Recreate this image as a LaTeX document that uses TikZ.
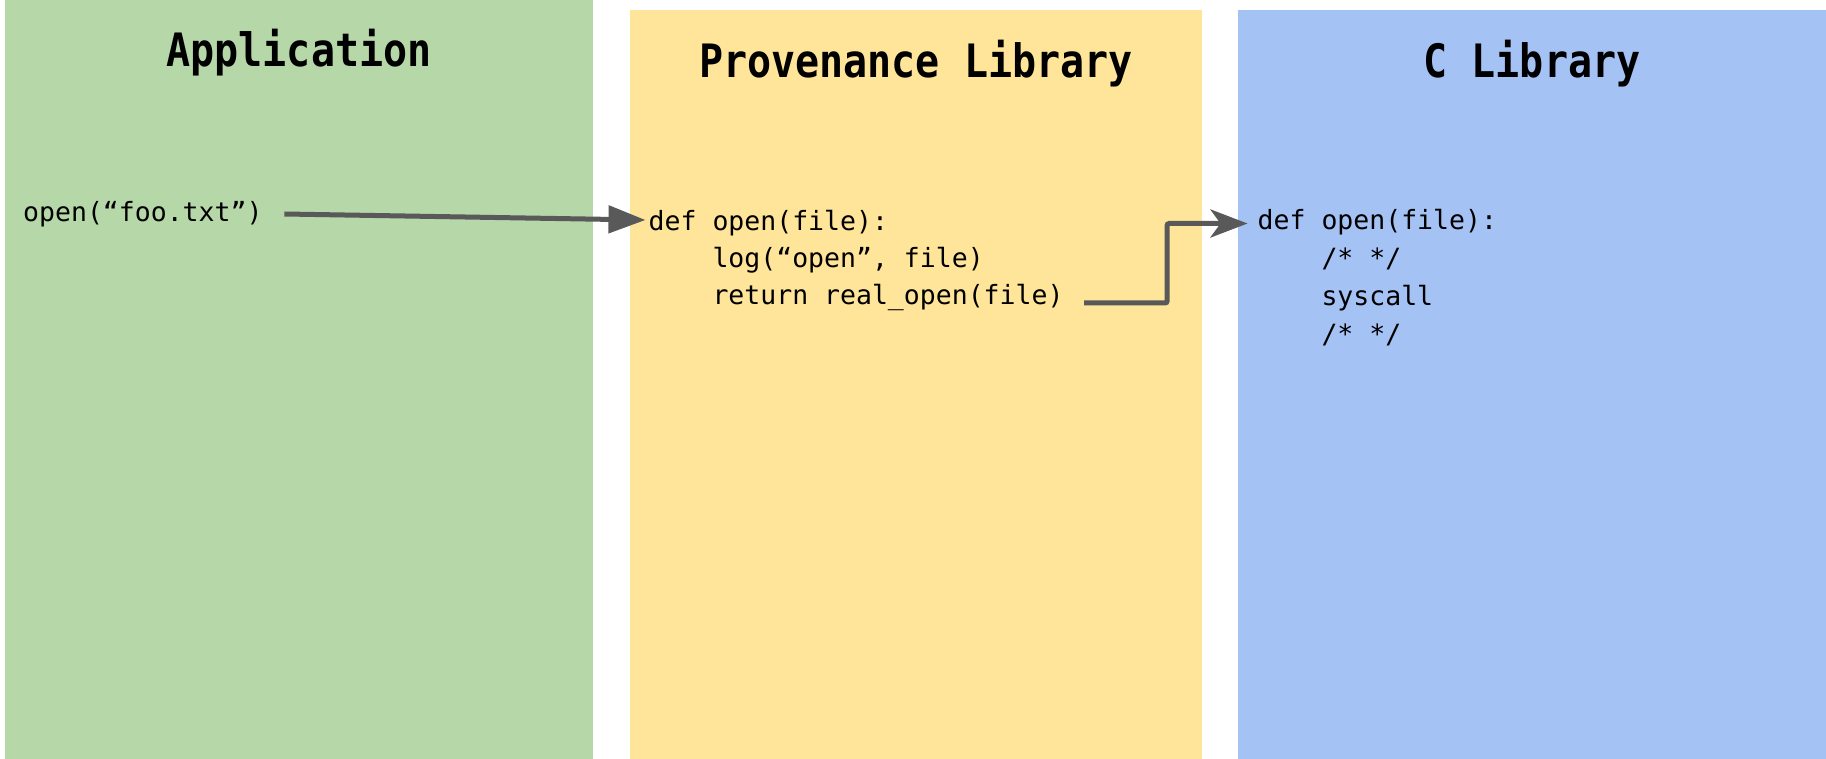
\documentclass[tikz,border=0pt]{standalone}
\usepackage{fontspec}
\setmonofont{DejaVu Sans Mono}
\usetikzlibrary{arrows.meta}
\definecolor{appgreen}{HTML}{B6D7A8}
\definecolor{provyellow}{HTML}{FFE599}
\definecolor{clibblue}{HTML}{A4C2F4}
\definecolor{arrowgray}{HTML}{595959}
\begin{document}
\begin{tikzpicture}[x=1pt,y=-1pt,
  code/.style={anchor=base west, inner sep=0pt, font=\ttfamily\fontsize{26.5}{38}\selectfont},
  heading/.style={anchor=base, inner sep=0pt, font=\ttfamily\bfseries\fontsize{40}{48}\selectfont},
  arr/.style={draw=arrowgray, line width=5pt}]
\useasboundingbox (0,0) rectangle (1826,759);
\fill[appgreen] (5,0) rectangle (593,759);
\fill[provyellow] (630,10) rectangle (1202,759);
\fill[clibblue] (1238,10) rectangle (1826,759);
\node[heading] (happ) at (299,67) {\scalebox{1}[1.15]{Application}};
\node[heading] (hprov) at (916,78) {\scalebox{1}[1.15]{Provenance Library}};
\node[heading] (hclib) at (1532,78) {\scalebox{1}[1.15]{C Library}};
\node[code] (g1) at (23,221.7) {open(“foo.txt”)};
\node[code] (p1) at (648.5,230.7) {def open(file):};
\node[code] (p2) at (712.3,268) {log(“open”, file)};
\node[code] (p3) at (712.3,305) {return real\_open(file)};
\node[code] (c1) at (1257.5,230) {def open(file):};
\node[code] (c2) at (1321.3,268) {/* */};
\node[code] (c3) at (1321.3,306) {syscall};
\node[code] (c4) at (1321.3,344) {/* */};
\draw[arr, -{Triangle[length=37pt,width=27pt]}] ([xshift=21.7pt,yshift=7.7pt]g1.base east) -- ([xshift=-3pt,yshift=10.7pt]p1.base west);
\draw[arr, rounded corners=2pt, -{Stealth[length=37pt,width=28pt,inset=10pt]}] ([xshift=20.4pt,yshift=2pt]p3.base east) -- ++(83,0) |- ([xshift=-10pt,yshift=6.5pt]c1.base west);
\end{tikzpicture}
\end{document}
